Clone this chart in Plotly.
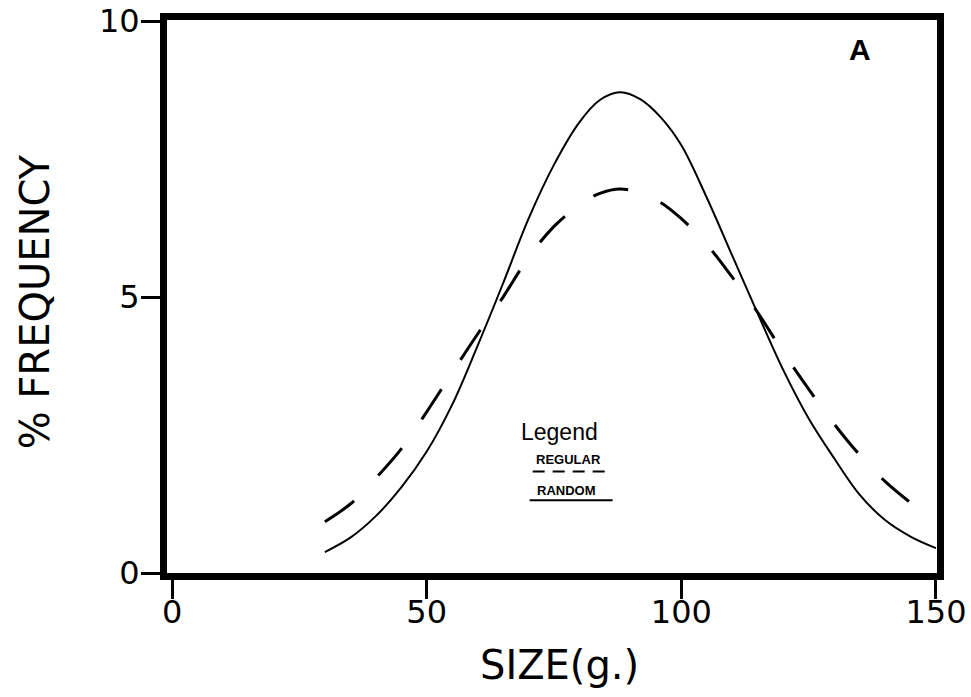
import plotly.graph_objects as go

# Size-frequency curves (size in g, % frequency)
regular_x = [30, 35, 40, 45, 50, 55, 60, 65, 70, 75, 80, 84, 88, 92, 96, 100,
             105, 110, 115, 120, 125, 130, 135, 140, 145, 150]
regular_y = [0.38, 0.64, 1.03, 1.55, 2.2, 3.05, 4.12, 5.25, 6.42, 7.4, 8.17, 8.57,
             8.71, 8.58, 8.25, 7.75, 6.8, 5.75, 4.7, 3.68, 2.8, 2.08, 1.42, 0.96,
             0.66, 0.45]

random_x = [30, 35, 40, 45, 50, 55, 60, 65, 70, 75, 80, 84, 88, 92, 96, 100,
            105, 110, 115, 120, 125, 130, 135, 140, 146]
random_y = [0.93, 1.25, 1.72, 2.25, 2.92, 3.63, 4.33, 5.0, 5.72, 6.28, 6.67, 6.88,
            6.96, 6.88, 6.71, 6.42, 5.95, 5.36, 4.72, 4.0, 3.33, 2.7, 2.14, 1.66,
            1.2]

x_ticks = [0, 50, 100, 150]
y_ticks = [0, 5, 10]

FONT = "DejaVu Sans"

fig = go.Figure()
fig.add_trace(go.Scatter(
    x=regular_x, y=regular_y, mode="lines", name="REGULAR",
    line=dict(color="black", width=2, shape="spline", smoothing=1.0),
))
fig.add_trace(go.Scatter(
    x=random_x, y=random_y, mode="lines", name="RANDOM",
    line=dict(color="black", width=3, shape="spline", smoothing=1.0,
              dash="36px,35px"),
))

axis_common = dict(
    showline=True, linecolor="black", linewidth=7, mirror=True,
    showgrid=False, zeroline=False, automargin=False,
    ticks="outside", ticklen=19, tickwidth=3, tickcolor="black",
    tickfont=dict(family=FONT, size=32, color="black"),
    ticklabeloverflow="allow",
)

fig.update_xaxes(range=[-1, 150.2], tickvals=x_ticks,
                 ticktext=[str(v) for v in x_ticks], ticklabelstandoff=-14,
                 **axis_common)
fig.update_yaxes(range=[0, 10.02], tickvals=y_ticks,
                 ticktext=[str(v) for v in y_ticks], ticklabelstandoff=-5,
                 **axis_common)

annotations = [
    dict(text="SIZE(g.)", xref="paper", yref="paper", x=0.51, y=-0.166,
         xanchor="center", yanchor="middle", showarrow=False,
         font=dict(family=FONT, size=40, color="black")),
    dict(text="% FREQUENCY", xref="paper", yref="paper", x=-0.171, y=0.49,
         xanchor="center", yanchor="middle", textangle=-90, showarrow=False,
         font=dict(family=FONT, size=40, color="black")),
    dict(text="<b>A</b>", xref="x", yref="y", x=135, y=9.48, showarrow=False,
         font=dict(family="Liberation Sans", size=30, color="black")),
    dict(text="Legend", xref="x", yref="y", x=76.1, y=2.55, showarrow=False,
         font=dict(family="Liberation Sans", size=23, color="black")),
    dict(text="<b>REGULAR</b>", xref="x", yref="y", x=77.8, y=2.05, showarrow=False,
         font=dict(family="Liberation Sans", size=13, color="black")),
    dict(text="<b>RANDOM</b>", xref="x", yref="y", x=77.4, y=1.5, showarrow=False,
         font=dict(family="Liberation Sans", size=13, color="black")),
]

shapes = [
    dict(type="line", xref="x", yref="y", x0=70.8, x1=85.0, y0=1.84, y1=1.84,
         line=dict(color="black", width=2, dash="12px,8px")),
    dict(type="line", xref="x", yref="y", x0=70.2, x1=86.5, y0=1.32, y1=1.32,
         line=dict(color="black", width=2)),
]

fig.update_layout(
    width=971, height=697,
    margin=dict(l=167, r=34, t=20, b=124, autoexpand=False),
    paper_bgcolor="white", plot_bgcolor="white",
    showlegend=False,
    annotations=annotations, shapes=shapes,
)

fig.write_html("out.html")
